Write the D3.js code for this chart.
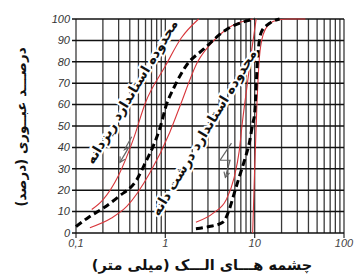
<!DOCTYPE html>
<html>
<head>
<meta charset="utf-8">
<script src="https://cdn.jsdelivr.net/npm/d3@7"></script>
<style>
  body { margin: 0; background: #fff; }
  svg { display: block; }
</style>
</head>
<body>
<svg id="chart" width="355" height="280"></svg>
<script>
// sieve opening (mm) vs percent passing
const fineUpper   = [[0.15, 11], [0.2, 15.5], [0.3, 27], [0.44, 44], [0.6, 61], [1.0, 78], [1.5, 91], [2.36, 100]];
const fineLower   = [[0.143, 2.5], [0.25, 7], [0.37, 12.4], [0.67, 28], [1.12, 47], [1.45, 59], [2.3, 80], [3.5, 90], [4.75, 95], [9.5, 100]];
const fineSample  = [[0.1, 3], [0.14, 7.5], [0.2, 11.5], [0.3, 17], [0.48, 25], [0.6, 33], [0.73, 40.5], [0.87, 49], [1.03, 60], [1.25, 68], [1.7, 78], [2.7, 86], [4.8, 95], [8, 99], [10, 100]];
const coarseUpper  = [[2.2, 5], [3.5, 9.5], [4.8, 15.5], [5.9, 26], [6.7, 38], [7.3, 52], [8.3, 70], [9.3, 86], [10.4, 100]];
const coarseLower  = [[9.5, 0], [10, 30], [10.6, 60], [11.3, 82], [12.5, 93], [14.5, 97.5], [18, 99.5], [25, 100], [37, 100]];
const coarseSample = [[2.2, 2], [3.1, 3], [4.4, 5], [5.2, 11], [5.9, 18.5], [6.7, 26], [7.7, 34], [8.8, 43], [9.5, 51], [10, 56], [10.8, 82], [11.9, 94], [14.7, 98], [19, 100]];

const yTicks = [0, 10, 20, 30, 40, 50, 60, 70, 80, 90, 100];
const xMajor = [0.1, 1, 10, 100];
const xTickLabels = ["0,1", "1", "10", "100"];

const xTitle = "چشمه هـــای الـــک (میلی متر)";
const yTitle = "درصـــد عبــوری (درصد)";
const fineLabel = "محدوده استاندارد ریزدانه";
const coarseLabel = "محدوده استاندارد درشت دانه";

// annotation anchors in data units
const fineLabelAt = [0.42, 66];
const coarseLabelAt = [2.7, 47];
const fineArrow = [[0.42, 45], [0.35, 39], [0.39, 40], [0.31, 33]];
const coarseArrow = [[5.5, 42], [4.1, 34], [5.3, 34], [4.7, 26]];

const svg = d3.select("#chart");
const margin = {top: 19, left: 76};
const width = 268, height = 214;
const g = svg.append("g").attr("transform", "translate(" + margin.left + "," + margin.top + ")");

const x = d3.scaleLog().domain([0.1, 100]).range([0, width]);
const y = d3.scaleLinear().domain([0, 100]).range([height, 0]);

// vertical grid at every 1..9 of each decade
let xGrid = [];
xMajor.slice(0, 3).forEach(d => { for (let k = 1; k < 10; k++) xGrid.push(d * k); });
xGrid.push(100);

g.append("g").selectAll("line")
  .data(xGrid)
  .enter().append("line")
    .attr("x1", d => x(d)).attr("x2", d => x(d))
    .attr("y1", 0)
    .attr("y2", d => xMajor.indexOf(d) >= 0 ? height + 5 : height)
    .attr("stroke", "#3a3a3a")
    .attr("stroke-width", 1.3);

g.append("g").selectAll("line")
  .data(yTicks)
  .enter().append("line")
    .attr("x1", -4).attr("x2", width)
    .attr("y1", d => y(d)).attr("y2", d => y(d))
    .attr("stroke", "#111")
    .attr("stroke-width", 1.5);

// tick labels
g.append("g").selectAll("text")
  .data(yTicks)
  .enter().append("text")
    .attr("x", -6)
    .attr("y", d => y(d))
    .attr("dy", "0.35em")
    .attr("text-anchor", "end")
    .attr("font-family", "Liberation Sans, Arial, sans-serif")
    .attr("font-style", "italic")
    .attr("font-size", 11)
    .attr("fill", "#333")
    .text(d => d);

g.append("g").selectAll("text")
  .data(xMajor)
  .enter().append("text")
    .attr("x", d => x(d))
    .attr("y", height + 14)
    .attr("text-anchor", "middle")
    .attr("font-family", "Liberation Sans, Arial, sans-serif")
    .attr("font-style", "italic")
    .attr("font-size", 11)
    .attr("fill", "#444")
    .text((d, i) => xTickLabels[i]);

// curves
const line = d3.line()
  .x(d => x(d[0]))
  .y(d => y(d[1]))
  .curve(d3.curveMonotoneX);

[fineUpper, fineLower, coarseUpper, coarseLower].forEach(s => {
  g.append("path")
    .attr("d", line(s))
    .attr("fill", "none")
    .attr("stroke", "#d8363b")
    .attr("stroke-width", 1.1);
});

[fineSample, coarseSample].forEach(s => {
  g.append("path")
    .attr("d", line(s))
    .attr("fill", "none")
    .attr("stroke", "#000")
    .attr("stroke-width", 3)
    .attr("stroke-dasharray", "7,4");
});

// hand drawn arrows
const arrowLine = d3.line().x(d => x(d[0])).y(d => y(d[1]));
[fineArrow, coarseArrow].forEach(a => {
  g.append("path")
    .attr("d", arrowLine(a))
    .attr("fill", "none")
    .attr("stroke", "#666")
    .attr("stroke-width", 1.2);
  const end = a[a.length - 1];
  const prev = a[a.length - 2];
  const ex = x(end[0]), ey = y(end[1]);
  const ang = Math.atan2(ey - y(prev[1]), ex - x(prev[0]));
  const hl = 6;
  g.append("path")
    .attr("d", "M" + (ex - hl * Math.cos(ang - 0.5)) + "," + (ey - hl * Math.sin(ang - 0.5)) +
               "L" + ex + "," + ey +
               "L" + (ex - hl * Math.cos(ang + 0.5)) + "," + (ey - hl * Math.sin(ang + 0.5)))
    .attr("fill", "none")
    .attr("stroke", "#666")
    .attr("stroke-width", 1.2);
});

// rotated labels
[[fineLabel, fineLabelAt], [coarseLabel, coarseLabelAt]].forEach(p => {
  g.append("text")
    .attr("transform", "translate(" + x(p[1][0]) + "," + y(p[1][1]) + ") rotate(-59)")
    .attr("text-anchor", "middle")
    .attr("dy", "0.35em")
    .attr("direction", "rtl")
    .attr("font-family", "DejaVu Sans, sans-serif")
    .attr("font-weight", "bold")
    .attr("font-size", 13.5)
    .attr("fill", "#111")
    .attr("stroke", "#fff")
    .attr("stroke-width", 4)
    .attr("paint-order", "stroke")
    .text(p[0]);
});

// axis titles
svg.append("text")
  .attr("x", 202)
  .attr("y", 270)
  .attr("text-anchor", "middle")
  .attr("direction", "rtl")
  .attr("font-family", "DejaVu Sans, sans-serif")
  .attr("font-weight", "bold")
  .attr("font-size", 14.5)
  .attr("fill", "#111")
  .text(xTitle);

svg.append("text")
  .attr("transform", "translate(21,127) rotate(-90)")
  .attr("text-anchor", "middle")
  .attr("dy", "0.35em")
  .attr("direction", "rtl")
  .attr("font-family", "DejaVu Sans, sans-serif")
  .attr("font-weight", "bold")
  .attr("font-size", 13.5)
  .attr("fill", "#111")
  .text(yTitle);
</script>
</body>
</html>
